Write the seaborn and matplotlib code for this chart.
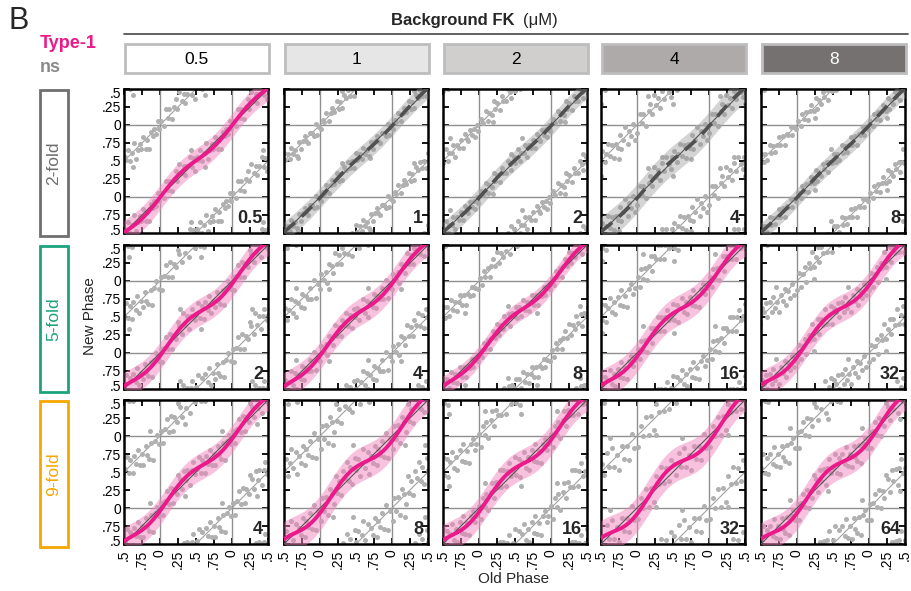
import numpy as np
import pandas as pd
import matplotlib
matplotlib.use("Agg")
import matplotlib.pyplot as plt
import matplotlib.transforms as mtransforms
from matplotlib.patches import Rectangle
import seaborn as sns

# --- data -----------------------------------------------------------------
concentrations = ["0.5", "1", "2", "4", "8"]
folds = ["2-fold", "5-fold", "9-fold"]
panel_labels = [["0.5", "1", "2", "4", "8"],
                ["2", "4", "8", "16", "32"],
                ["4", "8", "16", "32", "64"]]
# True = Type-1 (pink fit), False = ns (grey fit)
type1 = [[True, False, False, False, False],
         [True, True, True, True, True],
         [True, True, True, True, True]]

phase_ticks = [-0.5, -0.25, 0, 0.25, 0.5, 0.75, 1, 1.25, 1.5]
phase_labels = [".5", ".75", "0", ".25", ".5", ".75", "0", ".25", ".5"]

# fitted curve: amplitude of the phase shift and phase of steepest part
amp_2fold = [0.05, 0.02, 0.02, 0.03, 0.015]
peak_2fold = [0.02, 0.1, 0.1, 0.1, 0.1]
band_2fold = [0.17, 0.14, 0.14, 0.20, 0.13]
amp_5fold = [0.07, 0.065, 0.06, 0.075, 0.08]
peak_5fold = [0.10, 0.10, 0.12, 0.12, 0.13]
band_5fold = [0.19, 0.19, 0.14, 0.21, 0.19]
amp_9fold = [0.07, 0.085, 0.08, 0.095, 0.09]
peak_9fold = [0.10, 0.15, 0.12, 0.17, 0.15]
band_9fold = [0.19, 0.24, 0.21, 0.24, 0.22]

# scatter: old phase (x100) and distance from the fit (x100)
old_2fold = [
    [2, 5, 8, 11, 13, 16, 19, 22, 24, 27, 30, 33, 35, 38, 41, 44, 46, 48, 51, 53, 56, 59, 61, 64, 66, 69, 72, 74, 77, 80, 82, 85, 87, 90, 92, 95, 97, 99, 43, 62],
    [1, 4, 6, 9, 12, 15, 17, 20, 23, 26, 28, 31, 34, 36, 39, 42, 45, 47, 50, 52, 55, 58, 60, 63, 65, 68, 71, 73, 76, 79, 81, 84, 86, 89, 91, 94, 96, 98, 30, 70],
    [3, 6, 10, 13, 14, 18, 21, 22, 25, 29, 32, 33, 37, 40, 43, 45, 49, 50, 54, 57, 58, 62, 64, 67, 70, 72, 75, 78, 80, 83, 85, 88, 90, 93, 94, 97, 99, 60, 20, 44],
    [0, 4, 7, 9, 12, 16, 18, 21, 24, 27, 29, 32, 35, 38, 40, 44, 47, 49, 52, 55, 57, 60, 63, 65, 68, 71, 73, 76, 78, 81, 84, 87, 89, 92, 95, 97, 15, 50, 75, 35],
    [2, 5, 7, 10, 13, 15, 18, 20, 23, 26, 28, 30, 33, 36, 38, 41, 43, 46, 49, 51, 54, 56, 59, 62, 64, 67, 70, 72, 75, 77, 80, 83, 86, 88, 91, 93, 96, 99, 47, 25],
]
res_2fold = [
    [3, -8, 12, -4, 6, -11, 2, 9, -6, 14, -2, 5, -9, 1, 11, -5, 7, -13, 4, -1, 10, -7, 3, 15, -10, 0, 6, -3, 12, -8, 2, -14, 8, -2, 5, -6, 10, -4, 20, -18],
    [-5, 4, -2, 8, -7, 1, 6, -3, 9, -6, 2, -9, 5, -1, 7, -4, 3, -8, 10, -2, 4, -6, 8, -3, 1, -10, 6, -5, 3, 7, -1, -7, 5, 2, -4, 9, -8, 0, 16, -15],
    [6, -3, 9, -8, 2, -5, 11, -1, 4, -10, 7, -2, -6, 8, 1, -9, 5, -4, 12, -7, 3, -1, 9, -11, 4, -3, 6, -8, 10, 0, -5, 7, -2, 3, -9, 5, -6, 22, -17, 14],
    [-9, 12, -4, 7, -14, 3, 10, -7, 15, -2, 6, -12, 9, -5, 13, -1, -10, 4, 11, -8, 2, 14, -6, 8, -13, 5, -3, 12, -9, 1, 16, -11, 6, -4, 9, -15, 25, -22, -20, 18],
    [4, -6, 8, -2, 5, -9, 1, 7, -4, 10, -7, 3, -5, 9, -1, 6, -10, 2, -3, 8, -6, 4, -8, 11, -2, 5, -7, 1, 9, -4, 6, -9, 3, -1, 7, -5, 2, -3, 18, -16],
]
old_5fold = [
    [1, 3, 6, 9, 11, 14, 17, 19, 22, 25, 27, 30, 32, 35, 37, 40, 43, 45, 48, 50, 53, 55, 58, 61, 63, 66, 68, 71, 74, 76, 79, 81, 84, 87, 89, 92, 95, 98, 28, 57],
    [0, 2, 5, 8, 10, 13, 16, 18, 21, 24, 26, 29, 31, 34, 36, 39, 42, 44, 47, 49, 52, 54, 57, 60, 62, 65, 67, 70, 73, 75, 78, 80, 83, 86, 88, 91, 94, 97, 12, 66],
    [2, 4, 7, 9, 12, 15, 17, 20, 22, 25, 28, 30, 33, 35, 38, 41, 43, 46, 48, 51, 53, 56, 59, 61, 64, 66, 69, 72, 74, 77, 79, 82, 85, 87, 90, 92, 95, 98, 40, 80],
    [1, 4, 6, 8, 11, 14, 16, 19, 21, 24, 27, 29, 32, 34, 37, 39, 42, 45, 47, 50, 52, 55, 57, 60, 63, 65, 68, 70, 73, 76, 78, 81, 83, 86, 89, 91, 94, 97, 9, 52],
    [0, 3, 5, 8, 11, 13, 16, 18, 21, 23, 26, 29, 31, 34, 36, 39, 41, 44, 47, 49, 52, 54, 57, 59, 62, 65, 67, 70, 72, 75, 78, 80, 83, 85, 88, 90, 93, 96, 24, 71],
]
res_5fold = [
    [8, -12, 3, 14, -6, 10, -15, 1, -8, 12, 5, -10, 16, -3, 7, -13, 2, 11, -7, -1, 13, -9, 6, -14, 9, -4, 15, -11, 4, -6, 12, -2, -9, 8, -16, 5, 10, -5, 27, -25],
    [-7, 11, -2, 6, -13, 9, 2, -10, 14, -5, 4, -12, 8, -1, 13, -8, 5, -15, 10, -3, 7, -11, 1, 15, -6, 9, -14, 3, -4, 12, -9, 6, -2, 11, -7, 16, -12, 4, -24, 26],
    [5, -7, 9, -3, 6, -10, 2, 8, -5, 11, -8, 3, -6, 10, -2, 7, -11, 4, -1, 9, -7, 5, -9, 12, -4, 6, -8, 2, 10, -5, 7, -10, 3, -2, 8, -6, 1, -4, 20, -19],
    [10, -9, 14, -4, 7, -13, 3, 12, -11, 6, -2, 15, -8, 9, -14, 4, 11, -6, -1, 13, -10, 8, -16, 2, 14, -7, 5, -12, 10, -3, 16, -9, 3, -15, 7, 12, -5, -1, 30, -28],
    [-6, 13, -10, 4, 9, -14, 7, -3, 15, -8, 2, 11, -12, 6, -5, 14, -9, 1, 12, -15, 5, -2, 10, -11, 8, -7, 13, -4, 3, -13, 9, -1, 14, -10, 6, -6, 11, -8, -27, 25],
]
old_9fold = [
    [2, 4, 7, 10, 12, 15, 18, 20, 23, 25, 28, 31, 33, 36, 38, 41, 44, 46, 49, 51, 54, 57, 59, 62, 64, 67, 69, 72, 75, 77, 80, 82, 85, 88, 90, 93, 96, 98, 35, 86],
    [1, 3, 6, 9, 11, 14, 16, 19, 22, 24, 27, 29, 32, 35, 37, 40, 42, 45, 48, 50, 53, 55, 58, 60, 63, 66, 68, 71, 73, 76, 79, 81, 84, 86, 89, 92, 94, 97, 46, 18],
    [0, 3, 5, 8, 10, 13, 16, 18, 21, 24, 26, 29, 31, 34, 37, 39, 42, 44, 47, 50, 52, 55, 57, 60, 63, 65, 68, 70, 73, 76, 78, 81, 83, 86, 89, 91, 94, 96, 58, 8],
    [2, 5, 9, 12, 16, 19, 23, 27, 30, 33, 37, 40, 44, 47, 51, 54, 58, 61, 65, 68, 72, 75, 79, 82, 86, 89, 93, 96, 62, 26],
    [1, 3, 6, 8, 11, 14, 16, 19, 21, 24, 27, 29, 32, 34, 37, 40, 42, 45, 47, 50, 53, 55, 58, 60, 63, 66, 68, 71, 73, 76, 79, 81, 84, 86, 89, 92, 94, 97, 43, 90],
]
res_9fold = [
    [9, -11, 4, 13, -7, 10, -14, 2, -9, 15, 6, -12, 11, -4, 8, -15, 3, 12, -6, -1, 14, -10, 7, -13, 10, -3, 16, -8, 5, -11, 13, -2, -10, 9, -16, 6, 11, -5, -26, 28],
    [-12, 17, -6, 10, -18, 13, 3, -15, 19, -8, 5, -17, 12, -2, 18, -11, 7, -20, 14, -4, 9, -16, 1, 20, -9, 12, -19, 4, -6, 16, -13, 8, -3, 15, -10, 21, -17, 6, 33, -32],
    [8, -14, 12, -5, 10, -16, 4, 14, -12, 7, -3, 17, -9, 11, -15, 5, 13, -7, -2, 15, -11, 9, -17, 3, 15, -8, 6, -13, 12, -4, 18, -10, 4, -16, 8, 13, -6, -1, -30, 29],
    [-10, 15, -5, 18, -14, 8, -18, 12, -3, 16, -12, 6, -16, 10, 2, -15, 13, -8, 17, -11, 5, -17, 14, -6, 9, -13, 19, -4, 32, -30],
    [11, -13, 6, 15, -8, 12, -16, 3, -10, 17, 7, -14, 13, -5, 9, -17, 4, 14, -7, -2, 16, -12, 8, -15, 11, -4, 18, -9, 6, -13, 14, -3, -11, 10, -18, 7, 12, -6, -28, 30],
]

amps = [amp_2fold, amp_5fold, amp_9fold]
peaks = [peak_2fold, peak_5fold, peak_9fold]
bands = [band_2fold, band_5fold, band_9fold]
olds = [old_2fold, old_5fold, old_9fold]
resids = [res_2fold, res_5fold, res_9fold]

header_fill = ["#ffffff", "#e6e6e6", "#d1cece", "#aeaaaa", "#767171"]
header_text = ["black", "black", "black", "black", "white"]
fold_colors = ["#6f6f6f", "#1ba37c", "#f5a700"]
PINK = "#ec198a"

# --- style ----------------------------------------------------------------
sns.set_style("ticks")
plt.rcParams["font.family"] = ["Liberation Sans", "DejaVu Sans"]

W, H = 912, 591
fig = plt.figure(figsize=(W / 100, H / 100), dpi=100)

# overlay in pixel coordinates for the frame decorations
deco = fig.add_axes([0, 0, 1, 1])
deco.set_xlim(0, W)
deco.set_ylim(H, 0)
deco.axis("off")

col_left = [124, 284, 443, 601, 761]
row_top = [89, 245, 400]
pw, ph = 144, 144

# nudge the end labels a little so stacked ".5" labels don't collide
nudge_up = mtransforms.ScaledTranslation(0, 2.6 / 72, fig.dpi_scale_trans)
nudge_down = mtransforms.ScaledTranslation(0, -2.6 / 72, fig.dpi_scale_trans)


def fit_curve(x, amp, peak):
    return x + amp * np.sin(2 * np.pi * (x - peak))


xs = np.linspace(-0.5, 1.5, 300)

for r in range(3):
    for c in range(5):
        left, top = col_left[c], row_top[r]
        ax = fig.add_axes([left / W, 1 - (top + ph) / H, pw / W, ph / H])
        amp, peak, band = amps[r][c], peaks[r][c], bands[r][c]

        old = np.array(olds[r][c]) / 100
        new = fit_curve(old, amp, peak) + np.array(resids[r][c]) / 100
        rows = []
        for i in (-1, 0, 1):
            for j in (-1, 0, 1):
                X, Y = old + i, new + j
                keep = (X >= -0.52) & (X <= 1.52) & (Y >= -0.52) & (Y <= 1.52)
                rows.append(pd.DataFrame({"old": X[keep], "new": Y[keep]}))
        pts = pd.concat(rows)

        for g in (0, 1):
            ax.axvline(g, color="#8f8f8f", lw=1, zorder=1)
            ax.axhline(g, color="#8f8f8f", lw=1, zorder=1)
        for k in (-1, 1):
            ax.plot(xs, xs + k, color="#a0a0a0", lw=0.8, zorder=1.5)

        sns.scatterplot(data=pts, x="old", y="new", ax=ax, color="#b0b0b0",
                        s=13, linewidth=0, legend=False, zorder=2)

        yfit = fit_curve(xs, amp, peak)
        ax.plot(xs, xs, color="#555555", lw=0.8, zorder=3.5)
        if type1[r][c]:
            ax.fill_between(xs, yfit - band, yfit + band, color="#f27fba",
                            alpha=0.48, lw=0, zorder=3)
            ax.plot(xs, yfit, color=PINK, lw=2.8, zorder=4,
                    solid_capstyle="round")
        else:
            ax.fill_between(xs, yfit - band, yfit + band, color="#9a9a9a",
                            alpha=0.42, lw=0, zorder=3)
            ax.plot(xs, yfit, color="#505050", lw=2.6, zorder=4,
                    dashes=(4, 2.5))

        ax.text(0.965, 0.04, panel_labels[r][c], transform=ax.transAxes,
                ha="right", va="bottom", fontsize=13, fontweight="bold",
                zorder=6)

        ax.set_xlim(-0.5, 1.5)
        ax.set_ylim(-0.5, 1.5)
        ax.set_xticks(phase_ticks)
        ax.set_yticks(phase_ticks)
        ax.set_xticklabels(phase_labels if r == 2 else [], rotation=90)
        ax.set_yticklabels(phase_labels if c == 0 else [])
        ax.set_xlabel("")
        ax.set_ylabel("")
        ax.tick_params(direction="in", length=4, width=1.3, top=True,
                       right=True, labelsize=10, pad=2, colors="black")
        ax.tick_params(axis="x", pad=4)
        if c == 0:
            ylabs = ax.get_yticklabels()
            ylabs[0].set_transform(ylabs[0].get_transform() + nudge_up)
            ylabs[-1].set_transform(ylabs[-1].get_transform() + nudge_down)
        for sp in ax.spines.values():
            sp.set_linewidth(1.8)
            sp.set_color("black")

# column headers
for c, lab in enumerate(concentrations):
    deco.add_patch(Rectangle((col_left[c] + 1, 44), pw, 29,
                             facecolor=header_fill[c], edgecolor="#bdbdbd",
                             lw=2))
    deco.text(col_left[c] + 1 + pw / 2, 59, lab, ha="center", va="center",
              fontsize=12.5, color=header_text[c])

deco.plot([124, 908], [34, 34], color="#555555", lw=1.3)
deco.text(515, 20, "Background FK", ha="right", va="center", fontsize=12,
          fontweight="bold")
deco.text(523, 20, "(μM)", ha="left", va="center", fontsize=12)

# row headers
for r, lab in enumerate(folds):
    deco.add_patch(Rectangle((40, row_top[r] + 1), 28, 146, facecolor="none",
                             edgecolor=fold_colors[r], lw=2))
    deco.text(54, row_top[r] + 74, lab, rotation=90, ha="center",
              va="center", fontsize=12.5, color=fold_colors[r])

deco.text(9, 21, "B", ha="left", va="center", fontsize=22)
deco.text(40, 44, "Type-1", ha="left", va="center", fontsize=13,
          fontweight="bold", color=PINK)
deco.text(40, 67, "ns", ha="left", va="center", fontsize=13,
          fontweight="bold", color="#8a8a8a")

deco.text(90, 316, "New Phase", rotation=90, ha="center", va="center",
          fontsize=11)
deco.text(514, 579, "Old Phase", ha="center", va="center", fontsize=11)

fig.savefig("out.png", dpi=100)
